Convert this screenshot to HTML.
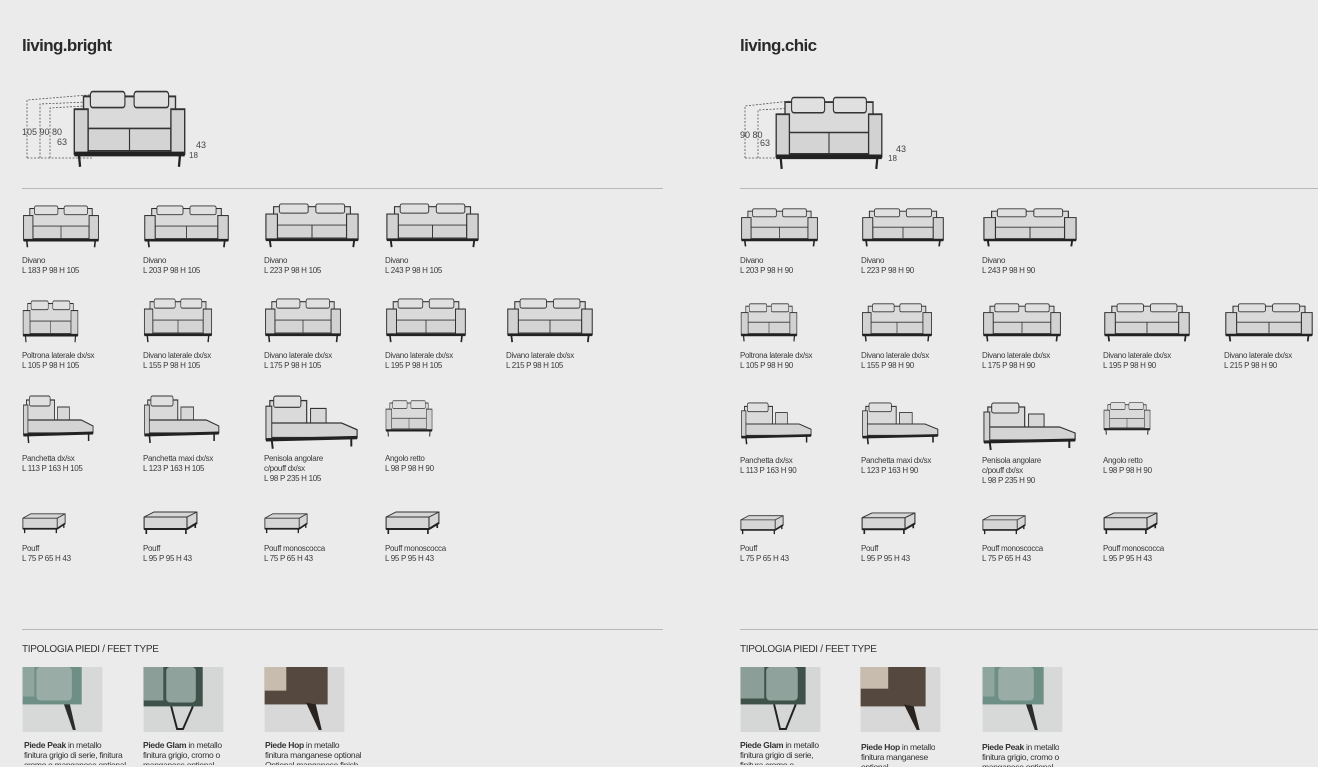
<!DOCTYPE html>
<html><head><meta charset="utf-8"><style>
body{margin:0;width:1318px;height:765px;background:#ebebeb;overflow:hidden;position:relative;font-family:"Liberation Sans Narrow","Liberation Sans",sans-serif;color:#333}
.t{position:absolute;font-family:"Liberation Sans",sans-serif;font-weight:bold;font-size:17px;letter-spacing:-0.6px;color:#2a2a2a}
.l{position:absolute;font-size:8px;line-height:10px;color:#3a3a3a;white-space:nowrap;letter-spacing:-0.3px}
.hr{position:absolute;height:1px;background:#b8b8b8}
.h{position:absolute;font-family:"Liberation Sans",sans-serif;font-size:10px;color:#333;letter-spacing:-0.3px}
.cap{position:absolute;font-size:8.5px;line-height:10px;color:#333;white-space:nowrap;letter-spacing:-0.3px;height:25px;overflow:hidden}
.ph{position:absolute;width:81px;height:65px}
svg.s{position:absolute;overflow:visible}
</style></head><body>
<svg width="0" height="0" style="position:absolute">
<defs>
<symbol id="sofa" viewBox="0 0 100 50" preserveAspectRatio="none">
<rect x="10" y="4" width="80" height="24" fill="#dadada" stroke="#333" stroke-width="1.2"/>
<rect x="16" y="1" width="30" height="10" rx="2" fill="#e0e0e0" stroke="#333" stroke-width="1"/>
<rect x="54" y="1" width="30" height="10" rx="2" fill="#e0e0e0" stroke="#333" stroke-width="1"/>
<path d="M14 24 L86 24 L86 38 L14 38 Z M50 24 L50 38" fill="#d4d4d4" stroke="#333" stroke-width="1"/>
<rect x="2" y="12" width="12" height="28" fill="#d2d2d2" stroke="#333" stroke-width="1.2"/>
<rect x="86" y="12" width="12" height="28" fill="#d2d2d2" stroke="#333" stroke-width="1.2"/>
<path d="M2 40 L98 40" stroke="#222" stroke-width="3"/>
<path d="M6 40 L7 48 M94 40 L93 48" stroke="#222" stroke-width="2"/>
</symbol>
<symbol id="pouf" viewBox="0 0 100 50" preserveAspectRatio="none">
<path d="M2 14 L20 4 L98 4 L98 26 L80 38 L2 38 Z" fill="#d6d6d6" stroke="#333" stroke-width="2"/>
<path d="M2 14 L80 14 L98 4 M80 14 L80 38" fill="none" stroke="#333" stroke-width="2"/>
<path d="M2 38 L80 38 L98 26" fill="none" stroke="#222" stroke-width="4"/>
<path d="M6 38 L6 48 M78 38 L78 48 M95 28 L95 36" stroke="#222" stroke-width="3"/>
</symbol>
<symbol id="chaise" viewBox="0 0 100 50" preserveAspectRatio="none">
<rect x="6" y="5" width="38" height="22" fill="#dadada" stroke="#333" stroke-width="1.2"/>
<rect x="10" y="1" width="28" height="10" rx="2" fill="#e0e0e0" stroke="#333" stroke-width="1"/>
<rect x="48" y="12" width="16" height="14" fill="#d8d8d8" stroke="#333" stroke-width="1"/>
<path d="M6 25 L80 25 L96 31 L96 38 L6 38 Z" fill="#d4d4d4" stroke="#333" stroke-width="1.2"/>
<rect x="2" y="10" width="6" height="30" fill="#d2d2d2" stroke="#333" stroke-width="1"/>
<path d="M2 40 L96 38" stroke="#222" stroke-width="3"/>
<path d="M8 40 L9 48 M90 38 L90 46" stroke="#222" stroke-width="2"/>
</symbol>
</defs></svg>

<div class="t" style="left:22px;top:36px">living.bright</div>
<div class="t" style="left:740px;top:36px">living.chic</div>

<svg class="s" style="left:22px;top:88px" width="185" height="84" viewBox="0 0 185 84">
<g fill="none" stroke="#555" stroke-dasharray="2,1.5" stroke-width="0.8"><path d="M5 70V12L78 6M18 70V16L65 14M28 70V20L62 18M5 70H70"/></g>
<text x="0" y="47" font-size="9" fill="#444" font-family="Liberation Sans Narrow,Liberation Sans,sans-serif">105 90 80</text>
<text x="35" y="57" font-size="9" fill="#444" font-family="Liberation Sans Narrow,Liberation Sans,sans-serif">63</text>
<text x="174" y="60" font-size="9" fill="#444" font-family="Liberation Sans Narrow,Liberation Sans,sans-serif">43</text>
<text x="167" y="70" font-size="8" fill="#444" font-family="Liberation Sans Narrow,Liberation Sans,sans-serif">18</text>
<use href="#sofa" x="50" y="2" width="115" height="80"/>
</svg>
<svg class="s" style="left:740px;top:88px" width="170" height="84" viewBox="0 0 170 84">
<g fill="none" stroke="#555" stroke-dasharray="2,1.5" stroke-width="0.8"><path d="M5 70V18L60 12M18 70V22L55 20M5 70H60"/></g>
<text x="0" y="50" font-size="9" fill="#444" font-family="Liberation Sans Narrow,Liberation Sans,sans-serif">90 80</text>
<text x="20" y="58" font-size="9" fill="#444" font-family="Liberation Sans Narrow,Liberation Sans,sans-serif">63</text>
<text x="156" y="64" font-size="9" fill="#444" font-family="Liberation Sans Narrow,Liberation Sans,sans-serif">43</text>
<text x="148" y="73" font-size="8" fill="#444" font-family="Liberation Sans Narrow,Liberation Sans,sans-serif">18</text>
<use href="#sofa" x="34" y="8" width="110" height="76"/>
</svg>

<div class="hr" style="left:22px;top:188px;width:641px"></div>
<div class="hr" style="left:740px;top:188px;width:578px"></div>
<div class="hr" style="left:22px;top:629px;width:641px"></div>
<div class="hr" style="left:740px;top:629px;width:578px"></div>

<svg class="s" style="left:22px;top:205px" width="78" height="44"><use href="#sofa" width="78" height="44"/></svg>
<svg class="s" style="left:143px;top:205px" width="87" height="44"><use href="#sofa" width="87" height="44"/></svg>
<svg class="s" style="left:264px;top:203px" width="96" height="46"><use href="#sofa" width="96" height="46"/></svg>
<svg class="s" style="left:385px;top:203px" width="95" height="46"><use href="#sofa" width="95" height="46"/></svg>
<div class="l" style="left:22px;top:256px">Divano<br>L 183 P 98 H 105</div>
<div class="l" style="left:143px;top:256px">Divano<br>L 203 P 98 H 105</div>
<div class="l" style="left:264px;top:256px">Divano<br>L 223 P 98 H 105</div>
<div class="l" style="left:385px;top:256px">Divano<br>L 243 P 98 H 105</div>

<svg class="s" style="left:22px;top:300px" width="57" height="44"><use href="#sofa" width="57" height="44"/></svg>
<svg class="s" style="left:143px;top:298px" width="70" height="46"><use href="#sofa" width="70" height="46"/></svg>
<svg class="s" style="left:264px;top:298px" width="78" height="46"><use href="#sofa" width="78" height="46"/></svg>
<svg class="s" style="left:385px;top:298px" width="82" height="46"><use href="#sofa" width="82" height="46"/></svg>
<svg class="s" style="left:506px;top:298px" width="88" height="46"><use href="#sofa" width="88" height="46"/></svg>
<div class="l" style="left:22px;top:351px">Poltrona laterale dx/sx<br>L 105 P 98 H 105</div>
<div class="l" style="left:143px;top:351px">Divano laterale dx/sx<br>L 155 P 98 H 105</div>
<div class="l" style="left:264px;top:351px">Divano laterale dx/sx<br>L 175 P 98 H 105</div>
<div class="l" style="left:385px;top:351px">Divano laterale dx/sx<br>L 195 P 98 H 105</div>
<div class="l" style="left:506px;top:351px">Divano laterale dx/sx<br>L 215 P 98 H 105</div>

<svg class="s" style="left:22px;top:395px" width="74" height="50"><use href="#chaise" width="74" height="50"/></svg>
<svg class="s" style="left:143px;top:395px" width="79" height="50"><use href="#chaise" width="79" height="50"/></svg>
<svg class="s" style="left:264px;top:395px" width="97" height="56"><use href="#chaise" width="97" height="56"/></svg>
<svg class="s" style="left:385px;top:400px" width="48" height="38"><use href="#sofa" width="48" height="38"/></svg>
<div class="l" style="left:22px;top:454px">Panchetta dx/sx<br>L 113 P 163 H 105</div>
<div class="l" style="left:143px;top:454px">Panchetta maxi dx/sx<br>L 123 P 163 H 105</div>
<div class="l" style="left:264px;top:454px">Penisola angolare<br>c/pouff dx/sx<br>L 98 P 235 H 105</div>
<div class="l" style="left:385px;top:454px">Angolo retto<br>L 98 P 98 H 90</div>

<svg class="s" style="left:22px;top:512px" width="44" height="22"><use href="#pouf" width="44" height="22"/></svg>
<svg class="s" style="left:143px;top:510px" width="55" height="25"><use href="#pouf" width="55" height="25"/></svg>
<svg class="s" style="left:264px;top:512px" width="44" height="22"><use href="#pouf" width="44" height="22"/></svg>
<svg class="s" style="left:385px;top:510px" width="55" height="25"><use href="#pouf" width="55" height="25"/></svg>
<div class="l" style="left:22px;top:544px">Pouff<br>L 75 P 65 H 43</div>
<div class="l" style="left:143px;top:544px">Pouff<br>L 95 P 95 H 43</div>
<div class="l" style="left:264px;top:544px">Pouff monoscocca<br>L 75 P 65 H 43</div>
<div class="l" style="left:385px;top:544px">Pouff monoscocca<br>L 95 P 95 H 43</div>

<svg class="s" style="left:740px;top:208px" width="79" height="40"><use href="#sofa" width="79" height="40"/></svg>
<svg class="s" style="left:861px;top:208px" width="84" height="40"><use href="#sofa" width="84" height="40"/></svg>
<svg class="s" style="left:982px;top:208px" width="96" height="40"><use href="#sofa" width="96" height="40"/></svg>
<div class="l" style="left:740px;top:256px">Divano<br>L 203 P 98 H 90</div>
<div class="l" style="left:861px;top:256px">Divano<br>L 223 P 98 H 90</div>
<div class="l" style="left:982px;top:256px">Divano<br>L 243 P 98 H 90</div>

<svg class="s" style="left:740px;top:303px" width="58" height="40"><use href="#sofa" width="58" height="40"/></svg>
<svg class="s" style="left:861px;top:303px" width="72" height="40"><use href="#sofa" width="72" height="40"/></svg>
<svg class="s" style="left:982px;top:303px" width="80" height="40"><use href="#sofa" width="80" height="40"/></svg>
<svg class="s" style="left:1103px;top:303px" width="88" height="40"><use href="#sofa" width="88" height="40"/></svg>
<svg class="s" style="left:1224px;top:303px" width="90" height="40"><use href="#sofa" width="90" height="40"/></svg>
<div class="l" style="left:740px;top:351px">Poltrona laterale dx/sx<br>L 105 P 98 H 90</div>
<div class="l" style="left:861px;top:351px">Divano laterale dx/sx<br>L 155 P 98 H 90</div>
<div class="l" style="left:982px;top:351px">Divano laterale dx/sx<br>L 175 P 98 H 90</div>
<div class="l" style="left:1103px;top:351px">Divano laterale dx/sx<br>L 195 P 98 H 90</div>
<div class="l" style="left:1224px;top:351px">Divano laterale dx/sx<br>L 215 P 98 H 90</div>

<svg class="s" style="left:740px;top:402px" width="74" height="44"><use href="#chaise" width="74" height="44"/></svg>
<svg class="s" style="left:861px;top:402px" width="80" height="44"><use href="#chaise" width="80" height="44"/></svg>
<svg class="s" style="left:982px;top:402px" width="97" height="50"><use href="#chaise" width="97" height="50"/></svg>
<svg class="s" style="left:1103px;top:402px" width="48" height="34"><use href="#sofa" width="48" height="34"/></svg>
<div class="l" style="left:740px;top:456px">Panchetta dx/sx<br>L 113 P 163 H 90</div>
<div class="l" style="left:861px;top:456px">Panchetta maxi dx/sx<br>L 123 P 163 H 90</div>
<div class="l" style="left:982px;top:456px">Penisola angolare<br>c/pouff dx/sx<br>L 98 P 235 H 90</div>
<div class="l" style="left:1103px;top:456px">Angolo retto<br>L 98 P 98 H 90</div>

<svg class="s" style="left:740px;top:514px" width="44" height="21"><use href="#pouf" width="44" height="21"/></svg>
<svg class="s" style="left:861px;top:511px" width="55" height="24"><use href="#pouf" width="55" height="24"/></svg>
<svg class="s" style="left:982px;top:514px" width="44" height="21"><use href="#pouf" width="44" height="21"/></svg>
<svg class="s" style="left:1103px;top:511px" width="55" height="24"><use href="#pouf" width="55" height="24"/></svg>
<div class="l" style="left:740px;top:544px">Pouff<br>L 75 P 65 H 43</div>
<div class="l" style="left:861px;top:544px">Pouff<br>L 95 P 95 H 43</div>
<div class="l" style="left:982px;top:544px">Pouff monoscocca<br>L 75 P 65 H 43</div>
<div class="l" style="left:1103px;top:544px">Pouff monoscocca<br>L 95 P 95 H 43</div>

<div class="h" style="left:22px;top:644px">TIPOLOGIA PIEDI / FEET TYPE</div>
<div class="h" style="left:740px;top:644px">TIPOLOGIA PIEDI / FEET TYPE</div>

<svg class="ph" style="left:22px;top:667px" viewBox="0 0 81 66"><rect width="81" height="66" fill="#d7d9d8"/><rect width="60" height="38" fill="#6e8f86"/><rect x="0" y="0" width="12" height="30" fill="#8ea69e"/><rect x="14" y="0" width="36" height="34" rx="4" fill="#9aaca6"/><path d="M42 38 L48 38 L54 64 L51 64 Z" fill="#2c2c2c"/></svg>
<svg class="ph" style="left:143px;top:667px" viewBox="0 0 81 66"><rect width="81" height="66" fill="#d5d7d6"/><rect width="60" height="40" fill="#3f5249"/><rect x="0" y="0" width="20" height="34" fill="#8c9e98"/><rect x="23" y="0" width="30" height="36" rx="4" fill="#8fa39c"/><path d="M28 40 L34 63 L40 63 L50 40" fill="none" stroke="#222" stroke-width="2"/></svg>
<svg class="ph" style="left:264px;top:667px" viewBox="0 0 81 66"><rect width="81" height="66" fill="#d8d8d8"/><rect width="64" height="38" fill="#55493f"/><rect x="0" y="0" width="22" height="24" fill="#c7bcae"/><path d="M42 36 L52 38 L58 64 L55 64 Z" fill="#2a2420"/></svg>
<svg class="ph" style="left:740px;top:667px" viewBox="0 0 81 66"><rect width="81" height="66" fill="#d5d7d6"/><rect width="66" height="38" fill="#3f5249"/><rect x="0" y="0" width="24" height="32" fill="#8c9e98"/><rect x="26" y="0" width="32" height="34" rx="4" fill="#8fa39c"/><path d="M34 38 L40 63 L46 63 L56 38" fill="none" stroke="#222" stroke-width="2"/></svg>
<svg class="ph" style="left:860px;top:667px" viewBox="0 0 81 66"><rect width="81" height="66" fill="#d8d8d8"/><rect width="66" height="40" fill="#55493f"/><rect x="0" y="0" width="28" height="22" fill="#c7bcae"/><path d="M44 38 L54 40 L60 64 L57 64 Z" fill="#2a2420"/></svg>
<svg class="ph" style="left:982px;top:667px" viewBox="0 0 81 66"><rect width="81" height="66" fill="#d7d9d8"/><rect width="62" height="38" fill="#6e8f86"/><rect x="0" y="0" width="12" height="30" fill="#8ea69e"/><rect x="16" y="0" width="36" height="34" rx="4" fill="#9aaca6"/><path d="M44 38 L50 38 L56 64 L53 64 Z" fill="#2c2c2c"/></svg>

<div class="cap" style="left:24px;top:740px"><b>Piede Peak</b> in metallo<br>finitura grigio di serie, finitura<br>cromo o manganese optional</div>
<div class="cap" style="left:143px;top:740px"><b>Piede Glam</b> in metallo<br>finitura grigio, cromo o<br>manganese optional</div>
<div class="cap" style="left:265px;top:740px"><b>Piede Hop</b> in metallo<br>finitura manganese optional<br>Optional manganese finish</div>
<div class="cap" style="left:740px;top:740px"><b>Piede Glam</b> in metallo<br>finitura grigio di serie,<br>finitura cromo o</div>
<div class="cap" style="left:861px;top:742px"><b>Piede Hop</b> in metallo<br>finitura manganese<br>optional</div>
<div class="cap" style="left:982px;top:742px"><b>Piede Peak</b> in metallo<br>finitura grigio, cromo o<br>manganese optional</div>
</body></html>
